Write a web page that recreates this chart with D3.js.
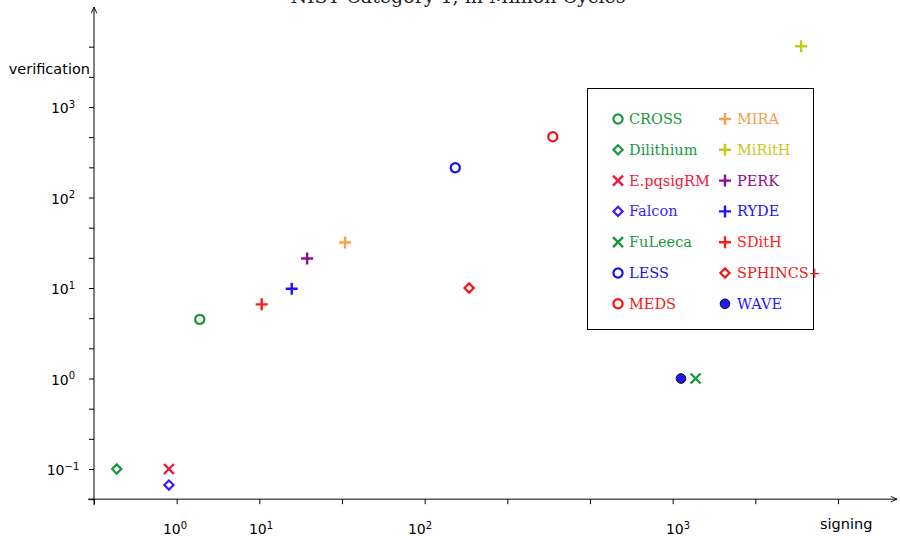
<!DOCTYPE html>
<meta charset="utf-8">
<style>
    body { margin: 0; background: #fff; }
    .tick-label { font: 14px "DejaVu Sans", sans-serif; fill: #000; text-anchor: middle; }
    .axis-label { font: 14.5px "DejaVu Sans", sans-serif; fill: #000; }
    .legend text { font: 14.5px "DejaVu Serif", serif; }
    .title { font: 19px "DejaVu Serif", serif; fill: #222; text-anchor: middle; }
</style>
<svg width="900" height="536"></svg>
<script src="https://d3js.org/d3.v7.min.js"></script>
<script>
    var svg = d3.select("svg");

    // schemes, signing and verification cost (millions of cycles)
    var names = ["CROSS", "Dilithium", "E.pqsigRM", "Falcon", "FuLeeca", "LESS", "MEDS",
                 "MIRA", "MiRitH", "PERK", "RYDE", "SDitH", "SPHINCS+", "WAVE"];
    var signing = [1.94, 0.21, 0.85, 0.85, 1170, 137, 327,
                   33.8, 3000, 19.5, 15.6, 10.1, 155, 1027];
    var verification = [4.5, 0.1, 0.1, 0.0665, 1, 213, 469,
                        31.8, 4700, 21.2, 9.8, 6.6, 10, 1];
    var colors = ["#18983c", "#18983c", "#f0183c", "#3a1ff0", "#18983c", "#1414e6", "#ee1818",
                  "#f5a04a", "#c8c81a", "#900c90", "#2010ff", "#ff1a1a", "#ee1a1a", "#1a1aff"];
    var shapes = ["circle", "diamond", "x", "diamond", "x", "circle", "circle",
                  "plus", "plus", "plus", "plus", "plus", "diamond", "dot"];

    var xLabelExps = [0, 1, 2, 3];
    var yLabelExps = [-1, 0, 1, 2, 3];
    var yTickThirds = d3.range(-4, 12);   // minor ticks every third of a decade
    var xTickCount = 10;

    // the x axis is not a plain log axis: its decade labels sit unevenly
    var x = d3.scaleLog()
        .domain([1, 10, 100, 1000])
        .range([175, 261, 420, 678]);
    var xTicks = d3.scaleLinear().domain([0, xTickCount - 1]).range([94, 838]);

    var y = d3.scaleLog()
        .domain([0.1, 1000])
        .range([469, 107]);

    var x0 = xTicks(0),
        y0 = y(Math.pow(10, -4 / 3));

    // arrow heads
    var defs = svg.append("defs");
    defs.append("marker")
        .attr("id", "arrow")
        .attr("viewBox", "0 0 10 10")
        .attr("refX", 10).attr("refY", 5)
        .attr("markerWidth", 7).attr("markerHeight", 7)
        .attr("markerUnits", "userSpaceOnUse")
        .attr("orient", "auto")
        .append("path")
        .attr("d", "M1,1L10,5L1,9")
        .attr("fill", "none")
        .attr("stroke", "#000")
        .attr("stroke-width", 1.3);

    // title sits mostly above the top edge, as in the original
    svg.append("text")
        .attr("class", "title")
        .attr("x", 458).attr("y", 3)
        .text("NIST Category 1, in Million Cycles");

    // axes lines
    svg.append("line")
        .attr("x1", x0 - 6).attr("x2", 897)
        .attr("y1", y0).attr("y2", y0)
        .attr("stroke", "#000").attr("stroke-width", 1)
        .attr("marker-end", "url(#arrow)");
    svg.append("line")
        .attr("x1", x0).attr("x2", x0)
        .attr("y1", y0 + 6).attr("y2", 7)
        .attr("stroke", "#000").attr("stroke-width", 1)
        .attr("marker-end", "url(#arrow)");

    // tick marks
    var xAxis = svg.append("g")
        .attr("transform", "translate(0," + y0 + ")")
        .call(d3.axisBottom(xTicks).tickValues(d3.range(xTickCount)).tickSize(5).tickFormat(""));
    xAxis.select(".domain").remove();

    var yAxis = svg.append("g")
        .attr("transform", "translate(" + x0 + ",0)")
        .call(d3.axisLeft(y)
            .tickValues(yTickThirds.map(function(k) { return Math.pow(10, k / 3); }))
            .tickSize(5).tickFormat(""));
    yAxis.select(".domain").remove();
    svg.selectAll(".tick line").attr("stroke", "#000").attr("stroke-width", 1);

    function powerLabel(sel, e) {
        sel.append("tspan").text("10");
        sel.append("tspan")
            .attr("dy", "-0.55em")
            .style("font-size", "10px")
            .text(e < 0 ? "\u2212" + (-e) : e);
    }

    svg.selectAll(".xlab")
        .data(xLabelExps)
        .enter().append("text")
        .attr("class", "tick-label xlab")
        .attr("x", function(e) { return x(Math.pow(10, e)); })
        .attr("y", 534)
        .each(function(e) { powerLabel(d3.select(this), e); });

    svg.selectAll(".ylab")
        .data(yLabelExps)
        .enter().append("text")
        .attr("class", "tick-label ylab")
        .attr("x", 63)
        .attr("y", function(e) { return y(Math.pow(10, e)) + 6; })
        .each(function(e) { powerLabel(d3.select(this), e); });

    svg.append("text")
        .attr("class", "axis-label")
        .attr("x", 90).attr("y", 74)
        .attr("text-anchor", "end")
        .text("verification");
    svg.append("text")
        .attr("class", "axis-label")
        .attr("x", 820).attr("y", 529)
        .text("signing");

    function drawShape(g, shape, color) {
        if (shape === "circle") {
            g.append("circle").attr("r", 4.6)
                .attr("fill", "none").attr("stroke", color).attr("stroke-width", 2.2);
        } else if (shape === "dot") {
            g.append("circle").attr("r", 4.8)
                .attr("fill", color).attr("stroke", "#000").attr("stroke-width", 1);
        } else if (shape === "diamond") {
            g.append("path").attr("d", "M0,-4.6L4.6,0L0,4.6L-4.6,0Z")
                .attr("fill", "none").attr("stroke", color).attr("stroke-width", 2.2);
        } else if (shape === "plus") {
            g.append("path").attr("d", "M-6,0H6M0,-6V6")
                .attr("stroke", color).attr("stroke-width", 2.4);
        } else if (shape === "x") {
            g.append("path").attr("d", "M-5,-5L5,5M-5,5L5,-5")
                .attr("stroke", color).attr("stroke-width", 2.4);
        }
    }

    // points
    var pts = svg.selectAll(".pt")
        .data(names)
        .enter().append("g")
        .attr("class", "pt")
        .attr("transform", function(d, i) {
            return "translate(" + x(signing[i]) + "," + y(verification[i]) + ")";
        });
    pts.each(function(d, i) { drawShape(d3.select(this), shapes[i], colors[i]); });

    // legend
    var legend = svg.append("g").attr("class", "legend");
    legend.append("rect")
        .attr("x", 587.5).attr("y", 88.5)
        .attr("width", 226).attr("height", 241)
        .attr("fill", "#fff").attr("stroke", "#000").attr("stroke-width", 1);

    var rows = 7;
    var item = legend.selectAll(".item")
        .data(names)
        .enter().append("g")
        .attr("class", "item")
        .attr("transform", function(d, i) {
            var col = Math.floor(i / rows), row = i % rows;
            return "translate(" + (618 + col * 107) + "," + (119 + row * 30.8) + ")";
        });
    item.each(function(d, i) { drawShape(d3.select(this), shapes[i], colors[i]); });
    item.append("text")
        .attr("x", function(d, i) { return i < rows ? 11 : 12; })
        .attr("y", 5)
        .attr("fill", function(d, i) { return colors[i]; })
        .text(function(d) { return d; });
</script>
